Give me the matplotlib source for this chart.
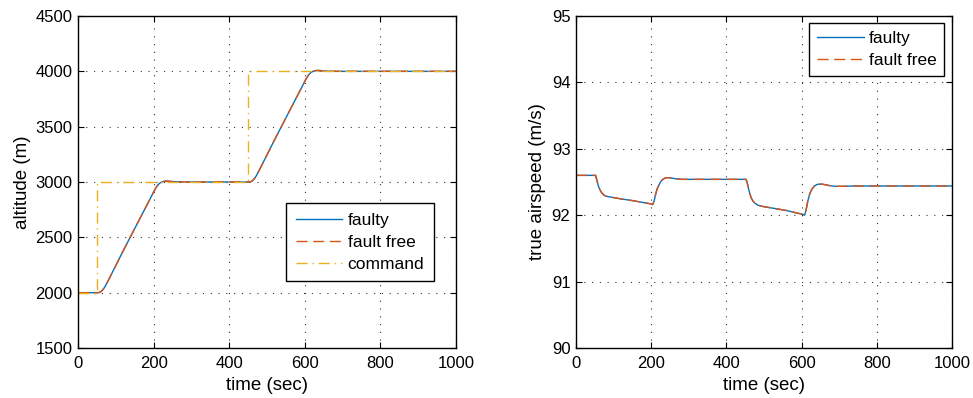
import matplotlib
matplotlib.use("Agg")
import matplotlib.pyplot as plt

plt.rcParams['font.family'] = ['Liberation Sans', 'DejaVu Sans']

# ---------------- data: altitude ----------------
alt_time = [0, 52, 56, 60, 64, 68, 72, 80, 100, 120, 138, 160, 180, 200, 205, 210,
            215, 220, 225, 232, 240, 250, 265, 290, 452, 456, 460, 464, 468, 472,
            480, 500, 520, 540, 560, 580, 600, 605, 610, 615, 620, 625, 632, 640,
            650, 665, 690, 1000]
alt_faulty = [2000, 2000, 2001, 2008, 2020, 2037, 2058, 2110, 2245, 2381, 2500, 2645,
              2777, 2909, 2942, 2968, 2986, 2997, 3004, 3008, 3007, 3004, 3001, 3000,
              3000, 3001, 3008, 3020, 3037, 3058, 3110, 3245, 3381, 3513, 3645, 3777,
              3909, 3942, 3968, 3986, 3997, 4004, 4008, 4007, 4004, 4001, 4000, 4000]
alt_faultfree = [2000, 2000, 2001, 2008, 2020, 2037, 2058, 2110, 2245, 2381, 2500, 2645,
                 2777, 2909, 2942, 2968, 2986, 2997, 3004, 3008, 3007, 3004, 3001, 3000,
                 3000, 3001, 3008, 3020, 3037, 3058, 3110, 3245, 3381, 3513, 3645, 3777,
                 3909, 3942, 3968, 3986, 3997, 4004, 4008, 4007, 4004, 4001, 4000, 4000]
cmd_time = [0, 50, 50, 450, 450, 1000]
cmd_alt = [2000, 2000, 3000, 3000, 4000, 4000]

# ---------------- data: airspeed ----------------
tas_time = [0, 52, 55, 59, 63, 68, 73, 78, 85, 95, 120, 150, 180, 200, 204, 208, 212,
            216, 221, 226, 232, 240, 248, 258, 270, 285, 300, 350, 452, 455, 458, 462,
            466, 471, 476, 484, 498, 530, 560, 590, 605, 608, 612, 616, 621, 627, 634,
            642, 652, 662, 675, 690, 710, 740, 800, 1000]
tas_faulty = [92.6, 92.6, 92.54, 92.45, 92.39, 92.34, 92.31, 92.29, 92.28, 92.27,
              92.245, 92.22, 92.19, 92.17, 92.16, 92.22, 92.32, 92.40, 92.46, 92.51,
              92.545, 92.565, 92.565, 92.555, 92.545, 92.54, 92.54, 92.54, 92.54, 92.50,
              92.42, 92.33, 92.26, 92.21, 92.18, 92.15, 92.13, 92.10, 92.07, 92.03,
              92.01, 92.00, 92.08, 92.20, 92.31, 92.39, 92.44, 92.465, 92.47, 92.46,
              92.445, 92.435, 92.435, 92.44, 92.44, 92.44]
tas_faultfree = [92.6, 92.6, 92.54, 92.45, 92.39, 92.34, 92.31, 92.29, 92.28, 92.27,
                 92.245, 92.22, 92.19, 92.17, 92.16, 92.22, 92.32, 92.40, 92.46, 92.51,
                 92.545, 92.565, 92.565, 92.555, 92.545, 92.54, 92.54, 92.54, 92.54, 92.50,
                 92.42, 92.33, 92.26, 92.21, 92.18, 92.15, 92.13, 92.10, 92.07, 92.03,
                 92.01, 92.00, 92.08, 92.20, 92.31, 92.39, 92.44, 92.465, 92.47, 92.46,
                 92.445, 92.435, 92.435, 92.44, 92.44, 92.44]

x_ticks = [0, 200, 400, 600, 800, 1000]
alt_ticks = [1500, 2000, 2500, 3000, 3500, 4000, 4500]
tas_ticks = [90, 91, 92, 93, 94, 95]

C_BLUE = (0.0, 0.447, 0.741)
C_RED = (0.850, 0.325, 0.098)
C_YEL = (0.929, 0.694, 0.125)
DASH = (0, (8, 4))
DASHDOT = (0, (8, 3.5, 1, 3.5))

W, H = 973, 398
fig = plt.figure(figsize=(W / 100, H / 100), dpi=100)

def px_axes(x0, x1, y0, y1):
    return fig.add_axes([x0 / W, 1 - y1 / H, (x1 - x0) / W, (y1 - y0) / H])

ax1 = px_axes(78, 456, 16, 348)
ax2 = px_axes(576, 952, 16, 348)

TICK_FS = 12
LABEL_FS = 13.5
LEG_FS = 12.5

def style(ax):
    for s in ax.spines.values():
        s.set_linewidth(1.0)
        s.set_color('black')
    ax.tick_params(direction='in', top=True, right=True, length=4, width=0.8,
                   labelsize=TICK_FS, pad=4, colors='black')
    ax.tick_params(axis='x', pad=6)
    ax.grid(True, color='black', linestyle=(0, (1, 6)), linewidth=0.8, alpha=0.8)
    ax.set_axisbelow(True)

def legend(ax, x0, y0, bp):
    leg = ax.legend(loc='upper left', bbox_to_anchor=(x0, y0),
                    borderaxespad=0, fontsize=LEG_FS, handlelength=2.7, handletextpad=0.3,
                    labelspacing=0.4, borderpad=bp, fancybox=False, framealpha=1,
                    edgecolor='black')
    leg.get_frame().set_linewidth(1.0)
    return leg

# left panel
ax1.plot(alt_time, alt_faulty, color=C_BLUE, lw=1.0, label='faulty')
ax1.plot(alt_time, alt_faultfree, color=C_RED, lw=1.0, ls=DASH, label='fault free')
ax1.plot(cmd_time, cmd_alt, color=C_YEL, lw=1.0, ls=DASHDOT, label='command')
ax1.set_xlim(0, 1000)
ax1.set_ylim(1500, 4500)
ax1.set_xticks(x_ticks)
ax1.set_yticks(alt_ticks)
ax1.set_xlabel('time (sec)', fontsize=LABEL_FS, labelpad=4)
ax1.set_ylabel('altitude (m)', fontsize=LABEL_FS, labelpad=3)
style(ax1)
legend(ax1, (286 - 78) / 378, (348 - 203) / 332, 0.55)

# right panel
ax2.plot(tas_time, tas_faulty, color=C_BLUE, lw=1.0, label='faulty')
ax2.plot(tas_time, tas_faultfree, color=C_RED, lw=1.0, ls=DASH, label='fault free')
ax2.set_xlim(0, 1000)
ax2.set_ylim(90, 95)
ax2.set_xticks(x_ticks)
ax2.set_yticks(tas_ticks)
ax2.set_xlabel('time (sec)', fontsize=LABEL_FS, labelpad=4)
ax2.set_ylabel('true airspeed (m/s)', fontsize=LABEL_FS, labelpad=4)
style(ax2)
legend(ax2, (809 - 576) / 376, (348 - 23) / 332, 0.45)

fig.savefig('out.png', dpi=100)
